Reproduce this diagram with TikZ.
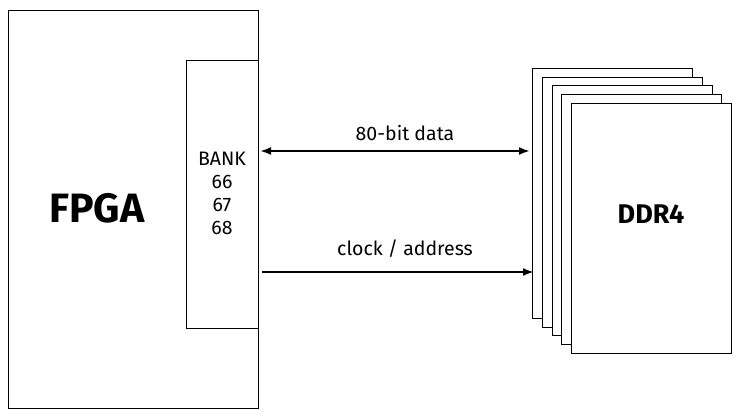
\documentclass[tikz,border=0pt]{standalone}
\usepackage{fontspec}
\setmainfont{Fira Sans}
\usetikzlibrary{arrows.meta}
\begin{document}
\begin{tikzpicture}[x=1pt,y=-1pt,
  box/.style={draw,fill=white,line width=0.8pt},
  conn/.style={line width=2pt,-{Latex[length=11pt,width=8pt]}},
  lbl/.style={font=\fontsize{19.5}{23}\selectfont}]
\useasboundingbox (0,0) rectangle (740,419);
\node[box,minimum width=250pt,minimum height=398pt,anchor=north west,inner sep=0] (fpga) at (8,10) {};
\node[font=\fontsize{41}{44}\selectfont\bfseries] (fpgat) at (97,208) {FPGA};
\node[box,minimum width=72pt,minimum height=268pt,anchor=north west,inner sep=0] (bank) at (186,60) {};
\node[lbl,align=center] (bankt) at (222,193) {BANK\\66\\67\\68};
\foreach \i in {0,...,4}{
  \node[box,minimum width=160pt,minimum height=250pt,anchor=north west,inner sep=0] (d\i) at (532+9.75*\i,68+8.75*\i) {};
}
\node[font=\fontsize{27}{30}\selectfont\bfseries] (ddrt) at (651,214) {DDR4};
\coordinate (a1) at (260,151);
\coordinate (b1) at (530,151);
\coordinate (a2) at (262,272);
\coordinate (b2) at (534,272);
\draw[conn,{Latex[length=11pt,width=8pt]}-{Latex[length=11pt,width=8pt]}] (a1) -- (b1);
\draw[conn] (a2) -- (b2);
\node[lbl] (l1) at (405,133) {80-bit data};
\node[lbl] (l2) at (405,249) {clock / address};
\end{tikzpicture}
\end{document}
